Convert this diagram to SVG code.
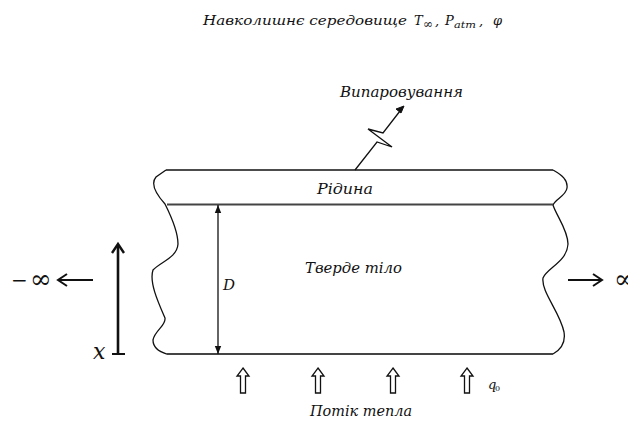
<svg xmlns="http://www.w3.org/2000/svg" width="628" height="427" viewBox="0 0 628 427">
<defs>
<style>
.t{font-family:"DejaVu Serif","Liberation Serif",serif;font-style:italic;fill:#111}
.edge{fill:none;stroke:#111;stroke-width:1.3}
.hl{fill:none;stroke:#444;stroke-width:2}
.ln{fill:none;stroke:#111;stroke-width:1.3}
.up{fill:#fff;stroke:#111;stroke-width:1.3;stroke-linejoin:miter}
</style>
<marker id="ah" viewBox="0 0 10 10" refX="10" refY="5" markerWidth="8" markerHeight="8" orient="auto-start-reverse" markerUnits="userSpaceOnUse">
<path d="M0,1 L10,5 L0,9 Z" fill="#111"/>
</marker>
</defs>
<rect width="628" height="427" fill="#fff"/>

<g id="environment">
<text class="t" x="203" y="25" font-size="13" textLength="204" lengthAdjust="spacingAndGlyphs">Навколишнє середовище</text>
<text class="t" x="414" y="25" font-size="13">T</text>
<text class="t" x="423" y="28" font-size="12" style="font-style:normal">∞</text>
<text class="t" x="435" y="25" font-size="13">,</text>
<text class="t" x="445" y="25" font-size="13">P</text>
<text class="t" x="454" y="28" font-size="10" textLength="22" lengthAdjust="spacingAndGlyphs">atm</text>
<text class="t" x="479" y="25" font-size="13">,</text>
<text class="t" x="493" y="25" font-size="13">φ</text>
</g>

<g id="body">
<path class="edge" d="M166,170 L553,170"/>
<path class="edge" d="M166,170 L156,177 C150,184 156,194 165,204 C170,214 178,232 178,244 C177,258 160,262 153,270 C149,282 158,302 165,318 C166,326 155,330 153,340 C153,348 160,352 167,354"/>
<path class="edge" d="M553,170 C562,175 568,180 567,188 C566,196 555,199 553,205 C556,215 568,230 568,244 C567,262 547,268 543,278 C541,292 560,312 564,332 C566,344 560,350 553,354"/>
<path class="hl" d="M167,204.5 L553,204.5"/>
<path class="hl" d="M167,354 L553,354"/>
</g>

<g id="liquid">
<text class="t" x="317" y="194" font-size="14" textLength="56" lengthAdjust="spacingAndGlyphs">Рідина</text>
</g>

<g id="solid">
<text class="t" x="305" y="273" font-size="14" textLength="97" lengthAdjust="spacingAndGlyphs">Тверде тіло</text>
</g>

<g id="evaporation">
<text class="t" x="340" y="97" font-size="14" textLength="123" lengthAdjust="spacingAndGlyphs">Випаровування</text>
</g>

<g id="heatflux">
<path class="up" d="M243,368 L249,376 L245.5,376 L245.5,393 L240.5,393 L240.5,376 L237,376 Z"/>
<path class="up" d="M318,368 L324,376 L320.5,376 L320.5,393 L315.5,393 L315.5,376 L312,376 Z"/>
<path class="up" d="M393,368 L399,376 L395.5,376 L395.5,393 L390.5,393 L390.5,376 L387,376 Z"/>
<path class="up" d="M467,368 L473,376 L469.5,376 L469.5,393 L464.5,393 L464.5,376 L461,376 Z"/>
<text class="t" x="488" y="389" font-size="13">q</text>
<text class="t" x="495" y="391" font-size="8" style="font-style:normal">0</text>
<text class="t" x="310" y="416" font-size="14" textLength="102" lengthAdjust="spacingAndGlyphs">Потік тепла</text>
</g>

<g id="axis">
<path d="M118,245 L118,354" fill="none" stroke="#111" stroke-width="2.6"/>
<path d="M112,253 L118,244 L124,253" fill="none" stroke="#111" stroke-width="2.4"/>
<path d="M112,354 L125,354" fill="none" stroke="#111" stroke-width="2"/>
<text class="t" x="93" y="359" font-size="22">x</text>
</g>

<g id="infinity-left">
<text x="11" y="287" font-family="'DejaVu Serif',serif" font-size="20" fill="#111">−</text>
<text x="30" y="288" font-family="'DejaVu Serif',serif" font-size="26" fill="#111">∞</text>
</g>
<g id="infinity-right">
<text x="614" y="288" font-family="'DejaVu Serif',serif" font-size="26" fill="#111">∞</text>
</g>

<g id="connectors">
<line class="ln" x1="218" y1="205" x2="218" y2="354" marker-start="url(#ah)" marker-end="url(#ah)"/>
<path d="M93,280 L58,280 M67,274 L58,280 L67,286" fill="none" stroke="#111" stroke-width="2"/>
<path d="M568,280 L602,280 M593,274 L602,280 L593,286" fill="none" stroke="#111" stroke-width="2"/>
<path class="ln" d="M355,170 L377,142 L392,147 L368,129 L383,133 L400,111"/>
<path d="M404,106 L396,109 L401,113 Z" fill="#111" stroke="#111" stroke-width="1"/>
</g>

<g id="dlabel">
<text class="t" x="223" y="290" font-size="15">D</text>
</g>
</svg>
